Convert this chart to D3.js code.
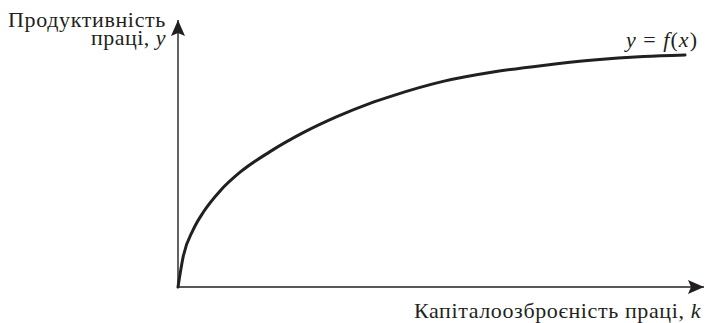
<!DOCTYPE html>
<html>
<head>
<meta charset="utf-8">
<script src="https://cdn.jsdelivr.net/npm/d3@7"></script>
<style>
  body { margin: 0; background: #fff; }
  #wrap { position: relative; width: 706px; height: 323px; }
  #wrap svg { position: absolute; left: 0; top: 0; }
  .lbl {
    position: absolute;
    white-space: nowrap;
    font-family: "Liberation Serif";
    font-size: 22px;
    line-height: 22px;
    color: #231f20;
  }
  .lbl i { font-style: italic; }
</style>
</head>
<body>
<div id="wrap"></div>
<script>
// Capital-to-labour ratio k (horizontal) and labour productivity y (vertical)
const kValues = [0, 0.10, 0.29, 0.48, 0.80, 1.18, 1.75, 2.38, 3.02, 3.65, 4.09, 5.04, 5.99, 6.94, 7.90, 8.85, 9.64];
const yValues = [0, 1.15, 2.15, 2.80, 3.60, 4.30, 5.07, 5.78, 6.38, 6.88, 7.17, 7.70, 8.05, 8.30, 8.50, 8.63, 8.69];

const yAxisLabel = ["Продуктивність", "праці, "];
const yAxisVar = "y";
const xAxisLabel = "Капіталоозброєність праці, ";
const xAxisVar = "k";

const ink = "#231f20";
const W = 706, H = 323;
const wrap = d3.select("#wrap");
const svg = wrap.append("svg").attr("width", W).attr("height", H);

const x = d3.scaleLinear().domain([0, 10]).range([178, 704]);
const y = d3.scaleLinear().domain([0, 10]).range([287, 20]);

// Arrowheads
const defs = svg.append("defs");
defs.append("marker")
  .attr("id", "arrow")
  .attr("viewBox", "0 0 16 14")
  .attr("refX", 16).attr("refY", 7)
  .attr("markerWidth", 16).attr("markerHeight", 14)
  .attr("markerUnits", "userSpaceOnUse")
  .attr("orient", "auto")
  .append("path")
  .attr("d", "M0,0 L16,7 L0,14 L3,7 Z")
  .attr("fill", ink);

// Axes
svg.append("line")
  .attr("x1", x(0)).attr("y1", y(0))
  .attr("x2", x(10)).attr("y2", y(0))
  .attr("stroke", ink).attr("stroke-width", 1.4)
  .attr("marker-end", "url(#arrow)");
svg.append("line")
  .attr("x1", x(0)).attr("y1", y(0))
  .attr("x2", x(0)).attr("y2", y(10))
  .attr("stroke", ink).attr("stroke-width", 1.4)
  .attr("marker-end", "url(#arrow)");

// Production function curve
const pts = kValues.map((k, i) => [k, yValues[i]]);
const line = d3.line()
  .x(d => x(d[0]))
  .y(d => y(d[1]))
  .curve(d3.curveMonotoneX);
svg.append("path")
  .datum(pts)
  .attr("d", line)
  .attr("fill", "none")
  .attr("stroke", ink)
  .attr("stroke-width", 3)
  .attr("stroke-linecap", "round");

// Labels: right edge and baseline given in pixels, text spread to a target width
const BASE = 22 * 0.8375; // baseline offset inside a 22px line box (Times metrics)
function label(right, baseline, width) {
  const d = wrap.append("div")
    .attr("class", "lbl")
    .style("right", (W - right) + "px")
    .style("top", (baseline - BASE) + "px");
  d.spread = () => {
    const node = d.node();
    const n = node.textContent.length;
    const w = node.getBoundingClientRect().width;
    if (n > 1 && w < width) d.style("letter-spacing", ((width - w) / n).toFixed(2) + "px");
    return d;
  };
  return d;
}

// Vertical axis title
const l1 = label(166, 27, 158);
l1.text(yAxisLabel[0]);
l1.spread();
const l2 = label(166, 45, 75);
l2.append("span").text(yAxisLabel[1]);
l2.append("i").text(yAxisVar);
l2.spread();

// Horizontal axis title
const l3 = label(701, 318, 287);
l3.append("span").text(xAxisLabel);
l3.append("i").text(xAxisVar);
l3.spread();

// Curve label
const l4 = label(698, 47, 72);
l4.append("i").text("y");
l4.append("span").text(" = ");
l4.append("i").text("f");
l4.append("span").text("(");
l4.append("i").text("x");
l4.append("span").text(")");
l4.spread();
</script>
</body>
</html>
